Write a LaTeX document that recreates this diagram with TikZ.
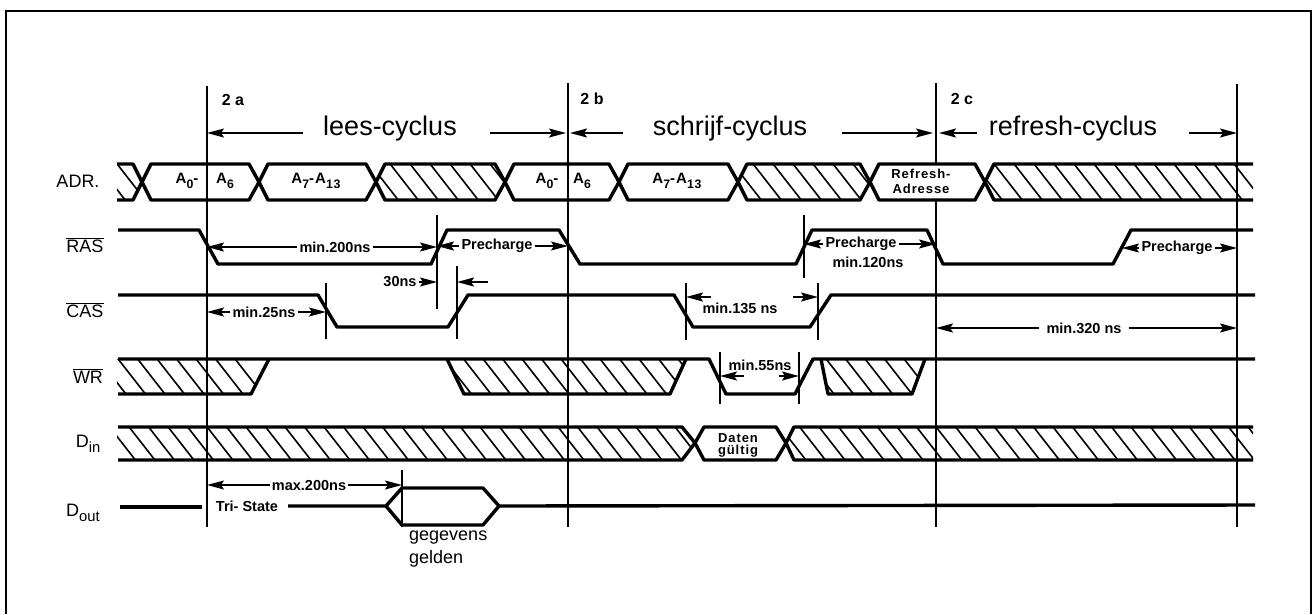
\documentclass[tikz,border=0pt]{standalone}
\usepackage{amsmath}
\usepackage{fontspec}
\setmainfont{Liberation Sans}
\newfontfamily\spaced[LetterSpace=7]{Liberation Sans}
\usetikzlibrary{arrows.meta,calc}

\newcommand{\hatchband}[3]{%
  \begin{scope}
    \clip #1;
    \foreach \hx in {#2} \draw[hatch] (\hx,#3-4) -- ++(32,41);
  \end{scope}}
\newcommand{\low}[1]{\raisebox{-.3em}{\scalebox{.82}{#1}}}

\begin{document}
\begin{tikzpicture}[
  x=1pt, y=-1pt,
  every node/.style={inner sep=2pt, align=center},
  sig/.style={line width=3.4pt, line join=round},
  tick/.style={line width=1.5pt},
  hatch/.style={line width=1.6pt},
  dim/.style={line width=1.6pt, -{Stealth[length=17pt,width=9pt,inset=3pt]}},
  lab/.style={font=\fontsize{18}{20}\selectfont},
  cyc/.style={font=\fontsize{27}{29}\selectfont},
  txt/.style={font=\fontsize{14.5}{16}\selectfont\bfseries},
  bus/.style={font=\fontsize{15}{17}\selectfont\spaced\bfseries},
  tag/.style={font=\fontsize{16}{18}\selectfont\bfseries}
]
\useasboundingbox (0,0) rectangle (1316,614);
\draw[line width=1.8pt] (6,614) -- (6,11) -- (1311,11) -- (1311,614);

% time marks
\foreach \mk/\xm/\ya/\yb in {mA/207/86/527, mB/568/83/527, mC/936/83/164, mCb/936/200/527, mD/1237/84/527,
    tRa/437/215/309, tRb/804/215/278, tCa/326/283/339, tCb/457/266/339,
    tCc/686/283/340, tCd/818/283/340, tWa/720/352/404, tWb/799/352/404, tO/402/470/527} {
  \coordinate (\mk) at (\xm,\ya);
  \draw[tick] (\mk) -- (\xm,\yb);
}

% row labels
\node[lab] (adr) at (78,181) {ADR.};
\node[lab] (ras) at (85,245) {$\overline{\text{RAS}}$};
\node[lab] (cas) at (85,310) {$\overline{\text{CAS}}$};
\node[lab] (wr) at (88,376) {$\overline{\text{WR}}$};
\node[lab] (din) at (88,444) {D\low{in}};
\node[lab] (dout) at (83,513) {D\low{out}};

% cycles
\node[tag] (ca) at (233,100) {2 a};
\node[tag] (cb) at (592,99) {2 b};
\node[tag] (cc) at (962,99) {2 c};
\node[cyc, inner xsep=20pt] (lees) at (390,129) {lees-cyclus};
\node[cyc, inner xsep=30pt] (schrijf) at (730,129) {schrijf-cyclus};
\node[cyc, inner xsep=12pt] (refresh) at (1073,129) {refresh-cyclus};
\draw[dim] ([yshift=-4pt]lees.west) -- ($(mA |- lees.west)+(0,4)$);
\draw[dim] ([xshift=13pt,yshift=-4pt]lees.east) -- ($(mB |- lees.east)+(-2,4)$);
\draw[dim] ([yshift=-4pt]schrijf.west) -- ($(mB |- schrijf.west)+(2,4)$);
\draw[dim] ([xshift=5pt,yshift=-4pt]schrijf.east) -- ($(mC |- schrijf.east)+(-3,4)$);
\draw[dim] ([yshift=-4pt]refresh.west) -- ($(mC |- refresh.west)+(3,4)$);
\draw[dim] ([xshift=20pt,yshift=-4pt]refresh.east) -- ($(mD |- refresh.east)+(0,4)$);

% ADR
\hatchband{(117,164) -- (134,164) -- (142,182) -- (134,200) -- (117,200) -- cycle}{74,94,114}{164}
\draw[sig] (117,164) -- (133,164) -- (142,182) -- (133,200) -- (117,200);
\foreach \xa/\xb in {142/259, 259/376, 376/505, 505/619, 619/738, 738/870, 870/985} {
  \draw[sig] (\xa,182) -- (\xa+9,164) -- (\xb-10,164) -- (\xb,182) -- (\xb-10,200) -- (\xa+9,200) -- cycle;
}
\hatchband{(376,182) -- (385,164) -- (495,164) -- (505,182) -- (495,200) -- (385,200) -- cycle}{347,367,...,490}{164}
\hatchband{(738,182) -- (747,164) -- (860,164) -- (870,182) -- (860,200) -- (747,200) -- cycle}{710,730,...,860}{164}
\hatchband{(985,182) -- (994,164) -- (1253,164) -- (1253,200) -- (994,200) -- cycle}{951,971,...,1254}{164}
\draw[sig] (985,182) -- (994,164) -- (1253,164);
\draw[sig] (985,182) -- (994,200) -- (1253,200);
\node[bus] (aa) at (187,181) {A\low{0}-};
\node[bus] (ab) at (225,181) {A\low{6}};
\node[bus] (ac) at (316,181) {A\low{7}-A\low{13}};
\node[bus] (ad) at (547,181) {A\low{0}-};
\node[bus] (ae) at (582,181) {A\low{6}};
\node[bus] (af) at (677,181) {A\low{7}-A\low{13}};
\node[bus, font=\fontsize{13}{15}\selectfont\spaced\bfseries] (refr) at (921,181) {Refresh-\\Adresse};

% RAS
\draw[sig] (118,230) -- (199,230) -- (218,264) -- (431,264) -- (447,230) -- (559,230) -- (580,264)
  -- (796,264) -- (812,230) -- (927,230) -- (943,264) -- (1113,264) -- (1131,230) -- (1253,230);
\node[txt] (rmin) at (335,247) {min.200ns};
\node[txt] (pa) at (497,246) {Precharge};
\node[txt] (pb) at (861,244) {Precharge};
\node[txt] (pmin) at (868,262) {min.120ns};
\node[txt] (pc) at (1177,248) {Precharge};
\draw[dim] (rmin.west) -- (mA |- rmin.west);
\draw[dim] (rmin.east) -- (tRa |- rmin.east);
\draw[dim] (pa.west) -- (tRa |- pa.west);
\draw[dim] (pa.east) -- (mB |- pa.east);
\draw[dim] (pb.west) -- (tRb |- pb.west);
\draw[dim] (pb.east) -- (mC |- pb.east);
\coordinate (edgeR) at (1122,248);
\draw[dim] (pc.west) -- (edgeR);
\draw[dim] (pc.east) -- (mD |- pc.east);

% CAS
\draw[sig] (118,295) -- (318,295) -- (337,327) -- (448,327) -- (468,295) -- (674,295) -- (693,327)
  -- (810,327) -- (831,295) -- (1255,295);
\node[txt] (cmin) at (264,312) {min.25ns};
\draw[dim] (cmin.west) -- (mA |- cmin.west);
\draw[dim] (cmin.east) -- (tCa |- cmin.east);
\node[txt] (tn) at (400,282) {30ns};
\coordinate (tnr) at (488,282);
\draw[dim] (tn.east) -- (tRa |- tn.east);
\draw[dim] (tnr) -- (tCb |- tnr);
\node[txt] (dmin) at (740,308) {min.135 ns};
\coordinate (dl) at (711,297);
\coordinate (dr) at (793,297);
\draw[dim] (dl) -- (tCc |- dl);
\draw[dim] (dr) -- (tCd |- dr);
\node[txt, inner xsep=7pt] (emin) at (1084,328) {min.320 ns};
\draw[dim] (emin.west) -- (mC |- emin.west);
\draw[dim] (emin.east) -- (mD |- emin.east);

% WR
\hatchband{(117,359) -- (269,359) -- (251,394) -- (117,394) -- cycle}{37,56.5,...,250}{359}
\hatchband{(447,359) -- (686,359) -- (670,394) -- (464,394) -- cycle}{363,382.5,...,680}{359}
\hatchband{(821,359) -- (925,359) -- (912,394) -- (828,394) -- cycle}{745,764.5,...,930}{359}
\draw[sig] (118,394) -- (251,394) -- (269,359);
\draw[sig] (118,359) -- (709,359) -- (726,394) -- (795,394) -- (813,359) -- (1255,359);
\draw[sig] (447,359) -- (464,394) -- (670,394) -- (686,359);
\draw[sig] (821,359) -- (828,394) -- (912,394) -- (925,359);
\node[txt] (wmin) at (760,365) {min.55ns};
\coordinate (wl) at (744,376);
\coordinate (wr2) at (779,376);
\draw[dim] (wl) -- (tWa |- wl);
\draw[dim] (wr2) -- (tWb |- wr2);

% Din
\hatchband{(117,427) -- (682,427) -- (695,443) -- (682,460) -- (117,460) -- cycle}{28.5,48,...,690}{427}
\hatchband{(786,443) -- (794,427) -- (1253,427) -- (1253,460) -- (794,460) -- cycle}{699,718.5,...,1254}{427}
\draw[sig] (118,427) -- (682,427) -- (695,443) -- (682,460) -- (118,460);
\draw[sig] (695,443) -- (704,427) -- (776,427) -- (786,443) -- (776,460) -- (704,460) -- cycle;
\draw[sig] (786,443) -- (794,427) -- (1253,427);
\draw[sig] (786,443) -- (794,460) -- (1253,460);
\node[txt, font=\fontsize{13}{12}\selectfont\spaced\bfseries] (dg) at (738,445) {Daten\\gültig};

% Dout
\draw[sig] (120,507) -- (202,507);
\node[txt, inner xsep=10pt] (ts) at (247,506) {Tri- State};
\draw[sig] (ts.east) -- (386,506) -- (402,488) -- (483,488) -- (499,506) -- (483,525) -- (402,525) -- (386,506);
\draw[sig] (499,506) -- (1255,505);
\node[txt] (omax) at (309,485) {max.200ns};
\draw[dim] (omax.west) -- (mA |- omax.west);
\draw[dim] (omax.east) -- (tO |- omax.east);
\node[font=\fontsize{18}{23}\selectfont, align=left, anchor=north west, inner sep=0pt] (geg) at (409,531) {gegevens\\gelden};
\end{tikzpicture}
\end{document}
